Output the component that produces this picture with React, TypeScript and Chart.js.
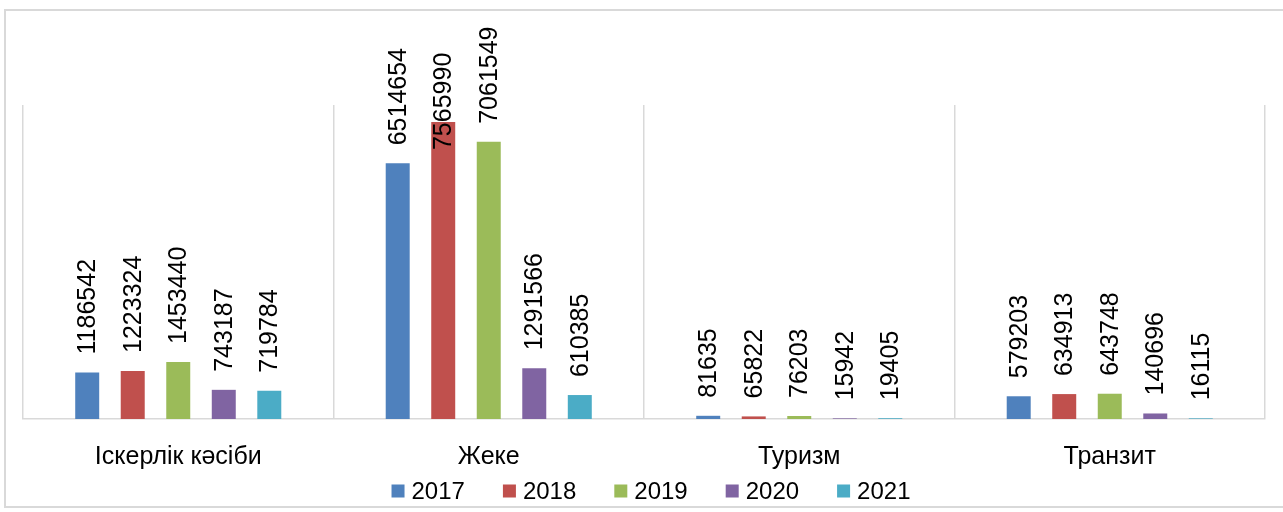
import { useEffect, useRef } from "react";
import { Chart, registerables } from "chart.js";

Chart.register(...registerables);

const categories = ["Іскерлік кәсіби", "Жеке", "Туризм", "Транзит"];
const years = ["2017", "2018", "2019", "2020", "2021"];
const values2017 = [1186542, 6514654, 81635, 579203];
const values2018 = [1223324, 7565990, 65822, 634913];
const values2019 = [1453440, 7061549, 76203, 643748];
const values2020 = [743187, 1291566, 15942, 140696];
const values2021 = [719784, 610385, 19405, 16115];
const seriesValues = [values2017, values2018, values2019, values2020, values2021];
const colors = ["#4F81BD", "#C0504D", "#9BBB59", "#8064A2", "#4BACC6"];
const yMax = 8000000;

const FONT = "'Liberation Sans', Arial, sans-serif";
const W = 1283;
const H = 512;

const barLabelPlugin = {
  id: "barLabels",
  afterDatasetsDraw(chart: any) {
    const ctx = chart.ctx;
    ctx.save();
    ctx.font = `25px ${FONT}`;
    ctx.fillStyle = "#000";
    ctx.textBaseline = "middle";
    ctx.textAlign = "left";
    chart.data.datasets.forEach((ds: any, di: number) => {
      const meta = chart.getDatasetMeta(di);
      meta.data.forEach((bar: any, i: number) => {
        const text = String(ds.data[i]);
        const w = ctx.measureText(text).width;
        let bottom = bar.y - 18;
        if (bottom - w < 14) bottom = bar.y + 28;
        ctx.save();
        ctx.translate(bar.x + 1, bottom);
        ctx.rotate(-Math.PI / 2);
        ctx.fillText(text, 0, 0);
        ctx.restore();
      });
    });
    ctx.restore();
  },
};

const legendPlugin = {
  id: "customLegend",
  afterDraw(chart: any) {
    const ctx = chart.ctx;
    ctx.save();
    ctx.font = `24px ${FONT}`;
    ctx.textBaseline = "middle";
    ctx.textAlign = "left";
    const box = 13;
    const gap = 7;
    const spacing = 38;
    const items = chart.data.datasets.map((ds: any) => ({
      text: ds.label,
      color: ds.backgroundColor,
      w: ctx.measureText(ds.label).width,
    }));
    const total =
      items.reduce((s: number, it: any) => s + box + gap + it.w, 0) +
      spacing * (items.length - 1);
    let x = 651 - total / 2;
    const cy = 491;
    items.forEach((it: any) => {
      ctx.fillStyle = it.color;
      ctx.fillRect(x, cy - box / 2, box, box);
      ctx.fillStyle = "#000";
      ctx.fillText(it.text, x + box + gap, cy + 1);
      x += box + gap + it.w + spacing;
    });
    ctx.restore();
  },
};

export default function App() {
  const canvasRef = useRef<HTMLCanvasElement | null>(null);

  useEffect(() => {
    document.body.style.margin = "0";
    const canvas = canvasRef.current;
    if (!canvas) return;
    const chart = new Chart(canvas, {
      type: "bar",
      data: {
        labels: categories,
        datasets: years.map((y, i) => ({
          label: y,
          data: seriesValues[i],
          backgroundColor: colors[i],
          borderWidth: 0,
          categoryPercentage: 0.733,
          barPercentage: 0.527,
        })),
      },
      options: {
        responsive: false,
        animation: false,
        devicePixelRatio: 1,
        layout: { padding: { left: 23, right: 18, top: 105, bottom: 0 } },
        scales: {
          x: {
            grid: {
              color: "#d9d9d9",
              lineWidth: 1.5,
              drawTicks: false,
              offset: true,
            },
            border: { color: "#d9d9d9", width: 1.5 },
            ticks: {
              color: "#000",
              font: { size: 25, family: FONT },
              padding: 23,
              maxRotation: 0,
              autoSkip: false,
            },
            afterFit: (scale: any) => {
              scale.height = 93;
            },
          },
          y: {
            display: false,
            min: 0,
            max: yMax,
          },
        },
        plugins: {
          legend: { display: false },
          tooltip: { enabled: false },
        },
      },
      plugins: [barLabelPlugin, legendPlugin],
    });
    return () => chart.destroy();
  }, []);

  return (
    <div style={{ position: "relative", width: W, height: H, overflow: "hidden", background: "#fff" }}>
      <canvas ref={canvasRef} width={W} height={H} style={{ position: "absolute", left: 0, top: 0 }} />
      <div
        style={{
          position: "absolute",
          left: 4,
          top: 9,
          width: W + 20,
          height: 499,
          border: "2px solid #d9d9d9",
          boxSizing: "border-box",
          pointerEvents: "none",
        }}
      />
    </div>
  );
}
